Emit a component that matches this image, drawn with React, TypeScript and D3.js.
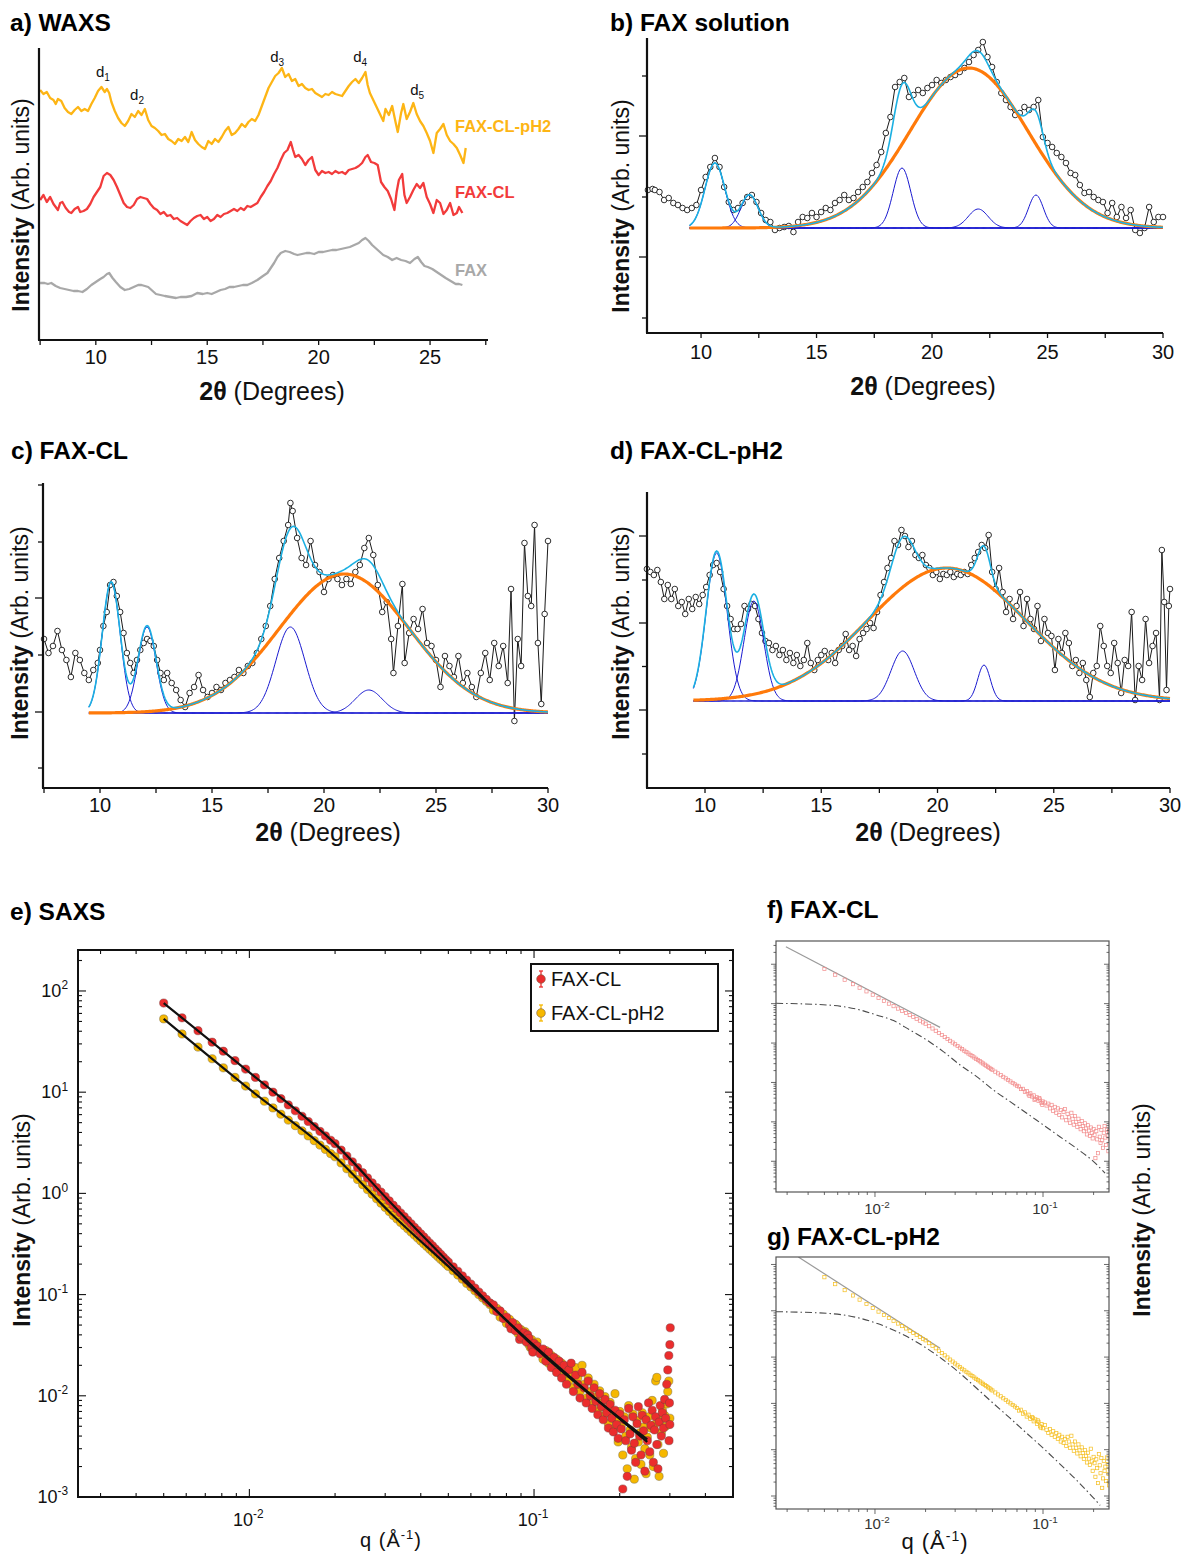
import React from 'react';
import * as d3 from 'd3';

const SANS = '"Liberation Sans", Arial, Helvetica, sans-serif';
const ORANGE = '#FF7A0A';
const BLUE = '#1A1AD0';
const CYAN = '#1CB0E2';
const YEL = '#FDB515';
const RED = '#F23B3B';
const GRAY = '#A8A8A8';

// ---------------- Panel a: WAXS (2θ in degrees, stacked intensity) ----------------
const waxsTickLabels = [10, 15, 20, 25];
const waxsTickMarks = [7.5, 10, 12.5, 15, 17.5, 20, 22.5, 25, 27.5];
const waxsPH2: [number, number][] = [[7.5,250],[7.65,246],[7.8,248],[7.95,242],[8.1,240],[8.2,236],[8.3,241],[8.45,239],[8.6,232],[8.75,228],[8.9,226],[9.05,230],[9.2,233],[9.35,229],[9.5,231],[9.65,229],[9.8,236],[9.95,242],[10.1,249],[10.25,253],[10.4,248],[10.5,251],[10.6,247],[10.7,238],[10.85,229],[11.0,222],[11.15,217],[11.3,214],[11.45,219],[11.6,226],[11.75,223],[11.9,229],[12.05,225],[12.2,231],[12.35,220],[12.5,214],[12.65,212],[12.8,209],[12.95,205],[13.1,206],[13.25,201],[13.4,199],[13.55,196],[13.7,201],[13.85,199],[14.0,203],[14.15,198],[14.3,208],[14.45,200],[14.6,196],[14.75,193],[14.9,191],[15.05,199],[15.2,196],[15.35,201],[15.5,198],[15.65,203],[15.8,209],[15.95,213],[16.1,205],[16.25,207],[16.4,211],[16.55,216],[16.7,213],[16.85,218],[17.0,221],[17.15,219],[17.3,225],[17.45,234],[17.6,243],[17.75,252],[17.9,258],[18.05,264],[18.2,267],[18.35,272],[18.5,263],[18.65,266],[18.8,259],[18.95,261],[19.1,254],[19.25,256],[19.4,252],[19.55,250],[19.7,251],[19.85,247],[20.0,245],[20.15,243],[20.3,246],[20.45,245],[20.6,248],[20.75,246],[20.9,245],[21.05,244],[21.2,249],[21.35,254],[21.5,258],[21.65,261],[21.8,257],[21.95,262],[22.1,268],[22.2,255],[22.3,247],[22.45,240],[22.6,233],[22.75,226],[22.9,219],[23.0,231],[23.15,225],[23.3,234],[23.45,218],[23.55,208],[23.7,227],[23.8,236],[23.95,221],[24.1,228],[24.25,237],[24.4,226],[24.55,219],[24.7,214],[24.85,207],[25.0,199],[25.15,187],[25.3,207],[25.45,211],[25.6,216],[25.75,205],[25.9,199],[26.05,196],[26.2,192],[26.35,185],[26.5,177],[26.6,192]];
const waxsCL: [number, number][] = [[7.5,140],[7.65,145],[7.8,138],[7.95,143],[8.1,136],[8.2,133],[8.3,130],[8.4,137],[8.5,138],[8.65,132],[8.8,128],[8.9,127],[9.05,131],[9.2,133],[9.3,128],[9.45,129],[9.6,131],[9.75,136],[9.9,143],[10.05,148],[10.2,153],[10.35,164],[10.5,167],[10.65,165],[10.8,160],[10.95,153],[11.1,145],[11.25,137],[11.4,133],[11.55,132],[11.7,135],[11.85,141],[12.0,143],[12.15,142],[12.3,141],[12.45,136],[12.6,132],[12.75,130],[12.9,126],[13.05,128],[13.2,124],[13.35,125],[13.5,121],[13.65,122],[13.8,119],[13.95,117],[14.1,115],[14.25,119],[14.4,122],[14.55,124],[14.7,125],[14.85,121],[15.0,123],[15.15,119],[15.3,121],[15.45,125],[15.6,123],[15.75,126],[15.9,127],[16.05,129],[16.2,131],[16.35,129],[16.5,132],[16.65,130],[16.8,134],[16.95,133],[17.1,135],[17.25,137],[17.4,143],[17.55,148],[17.7,154],[17.85,159],[18.0,166],[18.15,172],[18.3,180],[18.45,187],[18.6,190],[18.75,198],[18.85,190],[18.95,183],[19.1,185],[19.25,181],[19.4,175],[19.55,180],[19.7,183],[19.85,170],[20.0,165],[20.15,169],[20.3,167],[20.45,168],[20.6,166],[20.75,169],[20.9,167],[21.05,168],[21.2,166],[21.35,170],[21.5,171],[21.65,172],[21.8,174],[21.95,177],[22.1,183],[22.2,185],[22.35,178],[22.5,177],[22.65,175],[22.8,158],[22.95,153],[23.1,149],[23.25,141],[23.4,130],[23.5,148],[23.6,160],[23.75,166],[23.85,145],[23.95,137],[24.1,143],[24.25,150],[24.4,156],[24.55,152],[24.7,157],[24.85,143],[25.0,136],[25.15,127],[25.3,140],[25.45,137],[25.6,126],[25.75,130],[25.9,137],[26.05,125],[26.2,127],[26.3,133],[26.45,127]];
const waxsFAX: [number, number][] = [[7.5,57],[7.7,57],[7.85,56],[8.0,57],[8.2,54],[8.4,52],[8.6,51],[8.8,50],[9.0,49],[9.2,49],[9.4,48],[9.6,51],[9.8,55],[10.0,58],[10.2,61],[10.35,63],[10.5,66],[10.6,67],[10.75,62],[10.9,58],[11.1,53],[11.3,50],[11.5,51],[11.7,53],[11.9,55],[12.05,55],[12.2,54],[12.35,53],[12.5,50],[12.7,46],[12.9,45],[13.1,44],[13.35,43],[13.6,42],[13.8,43],[14.05,43],[14.3,44],[14.55,47],[14.8,46],[15.0,47],[15.2,46],[15.4,48],[15.6,50],[15.8,51],[16.0,53],[16.2,53],[16.4,54],[16.6,55],[16.8,55],[17.0,57],[17.25,60],[17.5,64],[17.7,67],[17.85,72],[18.0,77],[18.15,83],[18.3,87],[18.5,89],[18.7,88],[18.9,86],[19.05,85],[19.25,86],[19.45,87],[19.6,87],[19.8,86],[20.0,88],[20.2,88],[20.4,89],[20.6,90],[20.8,90],[21.0,91],[21.2,92],[21.4,93],[21.6,95],[21.8,97],[21.95,100],[22.1,102],[22.25,99],[22.4,95],[22.6,91],[22.75,88],[22.9,85],[23.1,83],[23.3,80],[23.5,82],[23.7,80],[23.9,79],[24.1,77],[24.3,81],[24.45,83],[24.6,78],[24.75,74],[24.9,73],[25.1,71],[25.3,68],[25.5,65],[25.7,62],[25.85,60],[26.0,58],[26.15,56],[26.3,56],[26.45,55]];
const waxsPeakNames = ['1', '2', '3', '4', '5'];
const waxsPeakPos: [number, number][] = [[10.32, 263], [11.85, 240], [18.14, 278], [21.86, 278], [24.42, 245]];
const waxsSeries = ['FAX-CL-pH2', 'FAX-CL', 'FAX'];

// ---------------- Panels b–d: peak fitting ----------------
const fitTickLabels = [10, 15, 20, 25, 30];
const fitTickMarks = [7.5, 10, 12.5, 15, 17.5, 20, 22.5, 25, 27.5, 30];
type Gauss = [number, number, number]; // centre, amplitude, sigma

const bData: [number, number][] = [[7.7,38],[7.9,39],[8.0,38],[8.2,36],[8.4,28],[8.6,30],[8.8,25],[9.0,23],[9.2,20],[9.4,18],[9.6,20],[9.8,23],[10.0,38],[10.2,51],[10.4,61],[10.6,70],[10.8,61],[11.0,41],[11.2,26],[11.4,18],[11.6,20],[11.8,25],[12.0,31],[12.2,33],[12.4,26],[12.6,15],[12.8,8],[13.0,6],[13.2,-2],[13.4,0],[13.6,1],[13.8,2],[14.0,-4],[14.2,6],[14.4,11],[14.6,10],[14.8,15],[15.0,11],[15.2,16],[15.4,20],[15.6,18],[15.8,25],[16.0,28],[16.2,33],[16.4,28],[16.6,30],[16.8,36],[17.0,41],[17.2,46],[17.4,55],[17.6,63],[17.8,76],[18.0,95],[18.2,111],[18.4,141],[18.6,146],[18.8,150],[19.0,131],[19.2,133],[19.4,138],[19.6,135],[19.8,140],[20.0,143],[20.2,148],[20.4,145],[20.6,148],[20.8,151],[21.0,153],[21.2,156],[21.4,160],[21.6,166],[21.8,173],[22.0,178],[22.2,186],[22.4,171],[22.6,161],[22.8,146],[23.0,135],[23.2,128],[23.4,121],[23.6,113],[23.8,115],[24.0,121],[24.2,118],[24.4,121],[24.6,128],[24.8,91],[25.0,85],[25.2,81],[25.4,75],[25.6,71],[25.8,65],[26.0,55],[26.2,53],[26.4,43],[26.6,35],[26.8,36],[27.0,31],[27.2,28],[27.4,26],[27.6,15],[27.8,25],[28.0,11],[28.2,21],[28.4,10],[28.6,18],[28.8,-2],[29.0,-5],[29.2,0],[29.4,21],[29.6,6],[29.8,11],[30.0,11]];
const bBroad: Gauss = [21.6, 160, 2.55];
const bPeaks: Gauss[] = [[10.6, 65, 0.43], [12.1, 33, 0.37], [18.7, 60, 0.38], [22.0, 19, 0.43], [24.5, 33, 0.32]];
const bTicksMajor = [92, -29];
const bTicksMinor = [152, 31, -90];

const cData: [number, number][] = [[7.5,74],[7.7,60],[7.9,67],[8.1,82],[8.3,63],[8.5,53],[8.7,36],[8.9,60],[9.1,53],[9.3,40],[9.5,33],[9.7,43],[9.9,50],[10.0,63],[10.15,87],[10.3,101],[10.45,128],[10.6,131],[10.75,117],[10.9,101],[11.05,80],[11.2,60],[11.35,50],[11.5,40],[11.65,53],[11.8,63],[11.95,70],[12.1,74],[12.25,72],[12.4,67],[12.55,53],[12.7,40],[12.85,33],[13.0,40],[13.2,30],[13.4,23],[13.6,13],[13.8,6],[14.0,20],[14.2,26],[14.4,38],[14.6,23],[14.8,16],[15.0,20],[15.2,26],[15.4,23],[15.6,30],[15.8,33],[16.0,36],[16.2,43],[16.4,40],[16.6,47],[16.8,50],[17.0,60],[17.2,74],[17.4,87],[17.6,107],[17.8,134],[18.0,155],[18.2,172],[18.4,188],[18.5,210],[18.6,202],[18.8,175],[19.0,155],[19.2,148],[19.4,172],[19.6,148],[19.8,141],[20.0,121],[20.2,134],[20.4,138],[20.6,134],[20.8,128],[21.0,134],[21.2,129],[21.4,141],[21.6,148],[21.8,165],[22.0,175],[22.2,158],[22.4,128],[22.6,101],[22.8,111],[23.0,74],[23.1,40],[23.3,87],[23.5,129],[23.6,50],[23.8,80],[24.0,94],[24.2,84],[24.4,104],[24.6,70],[24.8,67],[25.0,53],[25.2,26],[25.4,57],[25.6,47],[25.8,36],[26.0,57],[26.2,30],[26.4,40],[26.6,26],[26.8,16],[27.0,40],[27.2,60],[27.4,33],[27.6,70],[27.8,47],[28.0,67],[28.2,30],[28.35,124],[28.5,-8],[28.65,74],[28.8,47],[28.95,170],[29.1,117],[29.25,107],[29.4,188],[29.55,70],[29.7,9],[29.85,99],[30.0,172]];
const cBroad: Gauss = [20.9, 139, 2.9];
const cPeaks: Gauss[] = [[10.5, 131, 0.4], [12.1, 86, 0.4], [18.5, 86, 0.65], [22.0, 23, 0.6]];
const cTicksMajor = [115, 1];
const cTicksMinor = [228, 171, 58, -55];

const dData: [number, number][] = [[7.5,132],[7.65,129],[7.8,126],[7.95,131],[8.1,119],[8.25,102],[8.4,116],[8.55,102],[8.7,112],[8.85,95],[9.0,99],[9.15,87],[9.3,102],[9.45,92],[9.6,104],[9.75,97],[9.9,106],[10.05,114],[10.2,126],[10.35,136],[10.5,138],[10.65,129],[10.8,112],[10.95,95],[11.1,82],[11.25,72],[11.4,72],[11.55,77],[11.7,95],[11.85,92],[12.0,97],[12.15,95],[12.3,82],[12.45,68],[12.6,60],[12.75,58],[12.9,51],[13.05,55],[13.2,46],[13.35,51],[13.5,41],[13.65,48],[13.8,38],[13.95,46],[14.1,35],[14.25,41],[14.4,58],[14.55,38],[14.7,31],[14.85,41],[15.0,46],[15.15,50],[15.3,41],[15.45,48],[15.6,38],[15.75,51],[15.9,55],[16.05,67],[16.2,51],[16.35,55],[16.5,45],[16.65,62],[16.8,68],[16.95,72],[17.1,78],[17.25,73],[17.4,89],[17.55,106],[17.7,119],[17.85,133],[18.0,143],[18.15,160],[18.3,156],[18.45,171],[18.6,165],[18.75,154],[18.9,160],[19.05,146],[19.2,143],[19.35,146],[19.5,136],[19.65,133],[19.8,126],[19.95,129],[20.1,122],[20.25,127],[20.4,126],[20.55,129],[20.7,124],[20.85,127],[21.0,126],[21.15,129],[21.3,127],[21.45,136],[21.6,143],[21.75,149],[21.9,156],[22.05,153],[22.2,166],[22.35,129],[22.5,112],[22.65,133],[22.8,109],[22.95,89],[23.1,102],[23.25,82],[23.4,95],[23.55,109],[23.7,75],[23.85,102],[24.0,82],[24.15,72],[24.3,95],[24.45,60],[24.6,82],[24.75,68],[24.9,65],[25.05,31],[25.2,62],[25.35,48],[25.5,68],[25.65,58],[25.8,35],[25.95,41],[26.1,28],[26.25,38],[26.4,21],[26.55,4],[26.7,28],[26.85,35],[27.0,75],[27.15,55],[27.3,35],[27.45,28],[27.6,58],[27.75,38],[27.9,8],[28.05,41],[28.2,35],[28.35,89],[28.5,1],[28.65,35],[28.8,21],[28.95,82],[29.1,38],[29.25,55],[29.4,68],[29.55,1],[29.65,151],[29.75,99],[29.85,11],[29.95,95],[30.0,112]];
const dBroad: Gauss = [20.4, 133, 3.4];
const dPeaks: Gauss[] = [[10.5, 148, 0.45], [12.1, 100, 0.42], [18.5, 50, 0.5], [22.0, 36, 0.27]];
const dTicksMajor = [165, 78, -9];
const dTicksMinor = [121, 34.5, -53];

// ---------------- Panels e–g: SAXS (q in Å^-1, intensity) ----------------
const saxsCL: [number, number][] = [[0.005,76],[0.0058,54.3],[0.0066,40.5],[0.0074,31.2],[0.0081,25.4],[0.0089,20.5],[0.0097,16.9],[0.0105,14.0],[0.0113,11.8],[0.0121,10.0],[0.0129,8.63],[0.0137,7.49],[0.0145,6.55],[0.0153,5.78],[0.0161,5.13],[0.0169,4.58],[0.0177,4.10],[0.0185,3.70],[0.0193,3.35],[0.02,3.1],[0.021,2.68],[0.022,2.34],[0.023,2.05],[0.024,1.80],[0.025,1.60],[0.026,1.42],[0.027,1.27],[0.028,1.14],[0.029,1.03],[0.030,0.93],[0.031,0.843],[0.032,0.764],[0.033,0.699],[0.034,0.640],[0.035,0.589],[0.036,0.542],[0.037,0.501],[0.038,0.463],[0.039,0.430],[0.040,0.399],[0.041,0.371],[0.042,0.346],[0.043,0.323],[0.044,0.303],[0.045,0.283],[0.046,0.266],[0.047,0.250],[0.048,0.235],[0.049,0.221],[0.050,0.21],[0.052,0.188],[0.054,0.170],[0.056,0.153],[0.058,0.139],[0.060,0.127],[0.062,0.116],[0.064,0.106],[0.066,0.0973],[0.068,0.0896],[0.070,0.0827],[0.072,0.079],[0.074,0.068],[0.076,0.069],[0.078,0.058],[0.080,0.060],[0.082,0.050],[0.083,0.046],[0.084,0.053],[0.086,0.044],[0.088,0.047],[0.089,0.036],[0.090,0.038],[0.092,0.042],[0.094,0.034],[0.095,0.040],[0.096,0.037],[0.098,0.030],[0.099,0.027],[0.100,0.033],[0.1025,0.031],[0.105,0.026],[0.1075,0.029],[0.11,0.022],[0.1125,0.027],[0.115,0.019],[0.1175,0.024],[0.12,0.017],[0.1225,0.022],[0.125,0.015],[0.1275,0.020],[0.13,0.013],[0.1325,0.018],[0.135,0.021],[0.1375,0.011],[0.14,0.016],[0.1425,0.013],[0.145,0.0095],[0.1475,0.017],[0.15,0.012],[0.1525,0.0085],[0.155,0.014],[0.1575,0.010],[0.16,0.0075],[0.1625,0.012],[0.165,0.0088],[0.1675,0.0065],[0.17,0.0105],[0.1725,0.0078],[0.175,0.0058],[0.1775,0.0092],[0.18,0.0068],[0.1825,0.0048],[0.185,0.0082],[0.1875,0.0060],[0.19,0.0044],[0.1925,0.0072],[0.195,0.0052],[0.1975,0.0038],[0.2,0.0066],[0.2025,0.0047],[0.205,0.0012],[0.2075,0.0058],[0.21,0.0036],[0.2125,0.0016],[0.215,0.0075],[0.2175,0.0042],[0.22,0.0029],[0.2225,0.0062],[0.225,0.0034],[0.2275,0.0022],[0.23,0.0053],[0.2325,0.0078],[0.235,0.0040],[0.2375,0.0026],[0.24,0.0064],[0.2425,0.0045],[0.245,0.0018],[0.2475,0.0058],[0.25,0.0036],[0.2525,0.0085],[0.255,0.0028],[0.2575,0.0051],[0.26,0.0072],[0.2625,0.0022],[0.265,0.0046],[0.2675,0.0062],[0.27,0.0033],[0.2725,0.0019],[0.275,0.0055],[0.2775,0.0080],[0.28,0.0040],[0.2825,0.0068],[0.285,0.0048],[0.2875,0.0092],[0.29,0.0060],[0.2925,0.013],[0.295,0.018],[0.2975,0.025],[0.298,0.0036],[0.299,0.0085],[0.3,0.0052],[0.3,0.032],[0.301,0.047]];
const saxsPH2: [number, number][] = [[0.005,53],[0.0058,37.6],[0.0066,27.9],[0.0074,21.4],[0.0081,17.4],[0.0089,14.0],[0.0097,11.5],[0.0105,9.6],[0.0113,8.15],[0.0121,6.99],[0.0129,6.06],[0.0137,5.30],[0.0145,4.67],[0.0153,4.15],[0.0161,3.70],[0.0169,3.32],[0.0177,3.00],[0.0185,2.72],[0.0193,2.47],[0.02,2.3],[0.021,2.00],[0.022,1.75],[0.023,1.55],[0.024,1.37],[0.025,1.22],[0.026,1.09],[0.027,0.981],[0.028,0.884],[0.029,0.800],[0.030,0.727],[0.031,0.662],[0.032,0.605],[0.033,0.559],[0.034,0.517],[0.035,0.480],[0.036,0.446],[0.037,0.415],[0.038,0.388],[0.039,0.362],[0.040,0.339],[0.041,0.318],[0.042,0.299],[0.043,0.281],[0.044,0.265],[0.045,0.250],[0.046,0.236],[0.047,0.223],[0.048,0.212],[0.049,0.200],[0.050,0.19],[0.052,0.172],[0.054,0.156],[0.056,0.142],[0.058,0.129],[0.060,0.119],[0.062,0.109],[0.064,0.100],[0.066,0.0926],[0.068,0.0857],[0.070,0.0796],[0.072,0.070],[0.074,0.073],[0.076,0.060],[0.078,0.064],[0.080,0.052],[0.082,0.057],[0.084,0.046],[0.086,0.051],[0.087,0.049],[0.088,0.041],[0.090,0.045],[0.092,0.036],[0.093,0.043],[0.094,0.040],[0.096,0.032],[0.097,0.030],[0.098,0.036],[0.100,0.029],[0.1025,0.034],[0.105,0.027],[0.1075,0.023],[0.11,0.028],[0.1125,0.021],[0.115,0.025],[0.1175,0.019],[0.12,0.023],[0.1225,0.017],[0.125,0.021],[0.1275,0.015],[0.13,0.019],[0.1325,0.014],[0.135,0.017],[0.1375,0.012],[0.14,0.019],[0.1425,0.015],[0.145,0.011],[0.1475,0.020],[0.15,0.013],[0.1525,0.0095],[0.155,0.015],[0.1575,0.011],[0.16,0.0083],[0.1625,0.013],[0.165,0.0097],[0.1675,0.0072],[0.17,0.0112],[0.1725,0.0085],[0.175,0.0063],[0.1775,0.0098],[0.18,0.0074],[0.1825,0.0053],[0.185,0.0086],[0.1875,0.0064],[0.19,0.0047],[0.1925,0.0105],[0.195,0.0056],[0.1975,0.0035],[0.2,0.0070],[0.2025,0.0051],[0.205,0.0026],[0.2075,0.0062],[0.21,0.0040],[0.2125,0.0019],[0.215,0.0080],[0.2175,0.0046],[0.22,0.0031],[0.2225,0.0066],[0.225,0.0015],[0.2275,0.0024],[0.23,0.0057],[0.2325,0.0035],[0.235,0.0043],[0.2375,0.0021],[0.24,0.0068],[0.2425,0.0049],[0.245,0.0030],[0.2475,0.0017],[0.25,0.0039],[0.2525,0.0062],[0.255,0.0026],[0.2575,0.0048],[0.26,0.0090],[0.2625,0.0020],[0.265,0.0052],[0.2675,0.0140],[0.27,0.0152],[0.2725,0.0033],[0.275,0.0016],[0.2775,0.0058],[0.28,0.0043],[0.2825,0.0072],[0.285,0.0027],[0.2875,0.0064],[0.29,0.0050],[0.2925,0.0083],[0.295,0.0110],[0.2975,0.0140],[0.3,0.0060]];
const fitCL: [number, number][] = [[0.005,76],[0.01,15.7],[0.02,3.1],[0.0315,0.80],[0.05,0.21],[0.1,0.0305],[0.25,0.0037]];
const fitPH2: [number, number][] = [[0.005,53],[0.01,10.7],[0.02,2.3],[0.0315,0.63],[0.05,0.19],[0.1,0.0315],[0.25,0.0035]];
const powerCL: [number, number][] = [[0.00295, 277], [0.0244, 2.5]];
const powerPH2: [number, number][] = [[0.0035, 145], [0.0244, 1.55]];
const modelCL: [number, number][] = [[0.00258,10.2],[0.00515,9.27],[0.00815,6.92],[0.0102,5.16],[0.0129,3.71],[0.0161,2.15],[0.0203,1.20],[0.0255,0.607],[0.0321,0.278],[0.0403,0.141],[0.0506,0.0646],[0.0637,0.0326],[0.080,0.0166],[0.1005,0.0083],[0.126,0.0042],[0.158,0.00214],[0.20,0.00098],[0.234,0.0005]];
const modelPH2: [number, number][] = [[0.002576,9.55],[0.005152,8.83],[0.008147,6.89],[0.01023,5.37],[0.01285,3.85],[0.01614,2.55],[0.02032,1.55],[0.02553,0.865],[0.03206,0.447],[0.04027,0.212],[0.05058,0.1005],[0.06368,0.0479],[0.07998,0.0226],[0.1005,0.0107],[0.1262,0.0049],[0.1585,0.00219],[0.1995,0.000912],[0.2188,0.00063]];
const saxsYExp = [-3, -2, -1, 0, 1, 2];
const saxsXExp = [-2, -1];
const legendNames = ['FAX-CL', 'FAX-CL-pH2'];

// ---------------- helpers ----------------
const gauss = (x: number, g: Gauss) => g[1] * Math.exp(-((x - g[0]) ** 2) / (2 * g[2] * g[2]));

function logTicks(lo: number, hi: number) {
  const out: { v: number; major: boolean }[] = [];
  for (let e = Math.floor(Math.log10(lo)); e <= Math.ceil(Math.log10(hi)); e++) {
    for (let m = 1; m <= 9; m++) {
      const v = m * Math.pow(10, e);
      if (v >= lo * 0.9999 && v <= hi * 1.0001) out.push({ v, major: m === 1 });
    }
  }
  return out;
}

function YLabel({ x, y, size = 23 }: { x: number; y: number; size?: number }) {
  return (
    <text transform={`translate(${x},${y}) rotate(-90)`} textAnchor="middle" fontSize={size} fill="#111">
      <tspan fontWeight="bold">Intensity</tspan>
      <tspan>{' (Arb. units)'}</tspan>
    </text>
  );
}

function DegLabel({ x, y }: { x: number; y: number }) {
  return (
    <text x={x} y={y} textAnchor="middle" fontSize={25} fill="#111">
      <tspan fontWeight="bold">2θ</tspan>
      <tspan>{' (Degrees)'}</tspan>
    </text>
  );
}

function Pow10({ x, y, exp, size, anchor, fill = '#111' }: { x: number; y: number; exp: number; size: number; anchor: string; fill?: string }) {
  return (
    <text x={x} y={y} textAnchor={anchor} fontSize={size} fill={fill}>
      10<tspan dy={-size * 0.42} fontSize={size * 0.66}>{String(exp)}</tspan>
    </text>
  );
}

const TITLE = 24.5;

// ---------------- Panel a ----------------
function PanelA() {
  const x = d3.scaleLinear().domain([7.45, 27.6]).range([39, 488]);
  const y = d3.scaleLinear().domain([0, 292]).range([340, 48]);
  const line = d3.line<[number, number]>().x(d => x(d[0])).y(d => y(d[1]));
  const series = [waxsPH2, waxsCL, waxsFAX];
  const colors = [YEL, RED, GRAY];
  const labelY = [132, 198, 276];
  return (
    <g>
      <text x={10} y={31} fontSize={TITLE} fontWeight="bold">a) WAXS</text>
      {series.map((s, i) => (
        <path key={i} d={line(s)!} fill="none" stroke={colors[i]} strokeWidth={2.3} strokeLinejoin="round" />
      ))}
      {waxsSeries.map((n, i) => (
        <text key={n} x={455} y={labelY[i]} fontSize={16.5} fontWeight="bold" fill={colors[i]}>{n}</text>
      ))}
      {waxsPeakPos.map((p, i) => (
        <text key={i} x={x(p[0])} y={y(p[1])} textAnchor="middle" fontSize={15} fill="#111">
          d<tspan dy={4} fontSize={10}>{waxsPeakNames[i]}</tspan>
        </text>
      ))}
      <line x1={39} y1={48} x2={39} y2={340} stroke="#111" strokeWidth={2.2} />
      <line x1={38} y1={340} x2={488} y2={340} stroke="#111" strokeWidth={2.2} />
      {waxsTickMarks.map(v => (
        <line key={v} x1={x(v)} x2={x(v)} y1={340} y2={345} stroke="#111" strokeWidth={1.3} />
      ))}
      {waxsTickLabels.map(v => (
        <text key={v} x={x(v)} y={364} textAnchor="middle" fontSize={20} fill="#111">{v}</text>
      ))}
      <DegLabel x={272} y={400} />
      <YLabel x={29} y={205} />
    </g>
  );
}

// ---------------- Panels b–d ----------------
interface FitProps {
  title: string; tx: number; ty: number;
  xd: [number, number]; xr: [number, number];
  yd: [number, number]; yr: [number, number];
  data: [number, number][]; peaks: Gauss[]; broad: Gauss;
  major: number[]; minor: number[];
  tickY: number; xlabelX: number; xlabelY: number; ylabelX: number; ylabelY: number;
}

function FitPanel(p: FitProps) {
  const x = d3.scaleLinear().domain(p.xd).range(p.xr);
  const y = d3.scaleLinear().domain(p.yd).range(p.yr);
  const grid = d3.range(9.5, 30.0001, 0.05);
  const line = d3.line<[number, number]>().x(d => x(d[0])).y(d => y(d[1]));
  const broad = grid.map(v => [v, gauss(v, p.broad)] as [number, number]);
  const total = grid.map(v => [v, gauss(v, p.broad) + d3.sum(p.peaks, g => gauss(v, g))] as [number, number]);
  const [xl, xrt] = p.xr;
  const [yb, yt] = p.yr;
  return (
    <g>
      <text x={p.tx} y={p.ty} fontSize={TITLE} fontWeight="bold">{p.title}</text>
      <path d={line(p.data)!} fill="none" stroke="#1a1a1a" strokeWidth={1} />
      {p.data.map((d, i) => (
        <circle key={i} cx={x(d[0])} cy={y(d[1])} r={2.8} fill="#fff" stroke="#1a1a1a" strokeWidth={0.9} />
      ))}
      {p.peaks.map((g, i) => (
        <path key={i} d={line(grid.map(v => [v, gauss(v, g)] as [number, number]))!} fill="none" stroke={BLUE} strokeWidth={1} />
      ))}
      <path d={line(broad)!} fill="none" stroke={ORANGE} strokeWidth={3.2} />
      <path d={line(total)!} fill="none" stroke={CYAN} strokeWidth={1.6} />
      <line x1={xl} y1={yt} x2={xl} y2={yb} stroke="#111" strokeWidth={2.2} />
      <line x1={xl - 1} y1={yb} x2={xrt} y2={yb} stroke="#111" strokeWidth={2.2} />
      {fitTickMarks.filter(v => v >= p.xd[0] && v <= p.xd[1]).map(v => (
        <line key={v} x1={x(v)} x2={x(v)} y1={yb} y2={yb + 5} stroke="#111" strokeWidth={1.3} />
      ))}
      {p.major.map(v => <line key={'M' + v} x1={xl - 8} x2={xl} y1={y(v)} y2={y(v)} stroke="#111" strokeWidth={1.3} />)}
      {p.minor.map(v => <line key={'m' + v} x1={xl - 5} x2={xl} y1={y(v)} y2={y(v)} stroke="#111" strokeWidth={1.3} />)}
      {fitTickLabels.map(v => (
        <text key={v} x={x(v)} y={p.tickY} textAnchor="middle" fontSize={20} fill="#111">{v}</text>
      ))}
      <DegLabel x={p.xlabelX} y={p.xlabelY} />
      <YLabel x={p.ylabelX} y={p.ylabelY} />
    </g>
  );
}

// ---------------- Panel e ----------------
function PanelE() {
  const x = d3.scaleLog().domain([0.0025, 0.5]).range([78, 733]);
  const y = d3.scaleLog().domain([0.001, 254]).range([1497, 950]);
  const line = d3.line<[number, number]>().x(d => x(d[0])).y(d => y(d[1])).curve(d3.curveMonotoneX);
  const L = 78, R = 733, T = 950, B = 1497;
  const yt = logTicks(0.001, 254);
  const xt = logTicks(0.0025, 0.5);
  return (
    <g>
      <text x={10} y={920} fontSize={TITLE} fontWeight="bold">e) SAXS</text>
      <defs>
        <clipPath id="clipE"><rect x={L} y={T} width={R - L} height={B - T} /></clipPath>
      </defs>
      <g clipPath="url(#clipE)">
        {saxsPH2.map((d, i) => (
          <circle key={'y' + i} cx={x(d[0])} cy={y(d[1])} r={4.1} fill="#F6B800" stroke="#7a6a40" strokeWidth={0.5} />
        ))}
        {saxsCL.map((d, i) => (
          <circle key={'r' + i} cx={x(d[0])} cy={y(d[1])} r={4.1} fill="#EB2D2D" stroke="#7a3a3a" strokeWidth={0.5} />
        ))}
        <path d={line(fitPH2)!} fill="none" stroke="#111" strokeWidth={2.2} />
        <path d={line(fitCL)!} fill="none" stroke="#111" strokeWidth={2.2} />
      </g>
      <rect x={L} y={T} width={R - L} height={B - T} fill="none" stroke="#111" strokeWidth={2} />
      {yt.map(t => {
        const len = t.major ? 8 : 4;
        return (
          <g key={'yt' + t.v}>
            <line x1={L} x2={L + len} y1={y(t.v)} y2={y(t.v)} stroke="#111" strokeWidth={1.1} />
            <line x1={R - len} x2={R} y1={y(t.v)} y2={y(t.v)} stroke="#111" strokeWidth={1.1} />
          </g>
        );
      })}
      {xt.map(t => {
        const len = t.major ? 8 : 4;
        return (
          <g key={'xt' + t.v}>
            <line x1={x(t.v)} x2={x(t.v)} y1={T} y2={T + len} stroke="#111" strokeWidth={1.1} />
            <line x1={x(t.v)} x2={x(t.v)} y1={B - len} y2={B} stroke="#111" strokeWidth={1.1} />
          </g>
        );
      })}
      {saxsYExp.map(e => (
        <Pow10 key={e} x={68} y={y(Math.pow(10, e)) + 6} exp={e} size={18} anchor="end" />
      ))}
      {saxsXExp.map(e => (
        <Pow10 key={e} x={x(Math.pow(10, e)) - 1} y={1526} exp={e} size={18} anchor="middle" />
      ))}
      <text x={391} y={1547} textAnchor="middle" fontSize={20} fill="#111" letterSpacing={1}>
        q{'  '}(Å<tspan dy={-8} fontSize={13}>-1</tspan><tspan dy={8}>)</tspan>
      </text>
      <YLabel x={30} y={1220} />
      <rect x={531} y={964} width={187} height={67} fill="#fff" stroke="#111" strokeWidth={2} />
      {legendNames.map((n, i) => {
        const cy = 979 + i * 34;
        const col = i === 0 ? '#EB2D2D' : '#F6B800';
        return (
          <g key={n}>
            <line x1={541} x2={541} y1={cy - 8} y2={cy + 8} stroke={col} strokeWidth={1.3} />
            <line x1={539} x2={543} y1={cy - 8} y2={cy - 8} stroke={col} strokeWidth={1.3} />
            <line x1={539} x2={543} y1={cy + 8} y2={cy + 8} stroke={col} strokeWidth={1.3} />
            <circle cx={541} cy={cy} r={4.3} fill={col} stroke="#7a5a40" strokeWidth={0.6} />
            <text x={551} y={cy + 7} fontSize={20} fill="#111">{n}</text>
          </g>
        );
      })}
    </g>
  );
}

// ---------------- Panels f, g ----------------
interface SmallProps {
  id: string; title: string; ty: number; T: number; B: number; yd: [number, number];
  data: [number, number][]; color: string; power: [number, number][]; model: [number, number][]; tickY: number;
}

function SmallSaxs(p: SmallProps) {
  const L = 776, R = 1109;
  const x = d3.scaleLog().domain([0.002576, 0.247]).range([L, R]);
  const y = d3.scaleLog().domain(p.yd).range([p.B, p.T]);
  const line = d3.line<[number, number]>().x(d => x(d[0])).y(d => y(d[1])).curve(d3.curveMonotoneX);
  const yt = logTicks(p.yd[0], p.yd[1]);
  const xt = logTicks(0.002576, 0.247);
  return (
    <g>
      <text x={767} y={p.ty} fontSize={TITLE} fontWeight="bold">{p.title}</text>
      <defs>
        <clipPath id={p.id}><rect x={L} y={p.T} width={R - L} height={p.B - p.T} /></clipPath>
      </defs>
      <g clipPath={`url(#${p.id})`}>
        <path d={line(p.model)!} fill="none" stroke="#4a4a4a" strokeWidth={1.1} strokeDasharray="7 3 1.5 3" />
        <path d={line(p.power)!} fill="none" stroke="#9a9a9a" strokeWidth={1.2} />
        {p.data.map((d, i) => (
          <rect key={i} x={x(d[0]) - 1.6} y={y(d[1]) - 1.6} width={3.2} height={3.2} fill="none" stroke={p.color} strokeWidth={0.7} />
        ))}
      </g>
      <rect x={L} y={p.T} width={R - L} height={p.B - p.T} fill="none" stroke="#555" strokeWidth={1.2} />
      {yt.map(t => {
        const len = t.major ? 5 : 2.5;
        return (
          <g key={'yt' + t.v}>
            <line x1={L - len} x2={L} y1={y(t.v)} y2={y(t.v)} stroke="#444" strokeWidth={0.8} />
            <line x1={R - len} x2={R} y1={y(t.v)} y2={y(t.v)} stroke="#444" strokeWidth={0.8} />
          </g>
        );
      })}
      {xt.map(t => (
        <line key={'xt' + t.v} x1={x(t.v)} x2={x(t.v)} y1={p.B} y2={p.B + (t.major ? 5 : 3)} stroke="#444" strokeWidth={0.8} />
      ))}
      {saxsXExp.map(e => (
        <Pow10 key={e} x={x(Math.pow(10, e)) + 2} y={p.tickY} exp={e} size={15} anchor="middle" fill="#333" />
      ))}
    </g>
  );
}

export default function App() {
  return (
    <svg width={1184} height={1555} viewBox="0 0 1184 1555" fontFamily={SANS}
      style={{ position: 'absolute', left: 0, top: 0, background: '#fff' }}>
      <rect x={0} y={0} width={1184} height={1555} fill="#fff" />
      <PanelA />
      <FitPanel title="b) FAX solution" tx={610} ty={31} xd={[7.66, 30]} xr={[647, 1163]} yd={[-105, 190]} yr={[333, 38]}
        data={bData} peaks={bPeaks} broad={bBroad} major={bTicksMajor} minor={bTicksMinor}
        tickY={359} xlabelX={923} xlabelY={395} ylabelX={629} ylabelY={206} />
      <FitPanel title="c) FAX-CL" tx={11} ty={459} xd={[7.455, 30]} xr={[43, 548]} yd={[-75, 230]} yr={[788, 483]}
        data={cData} peaks={cPeaks} broad={cBroad} major={cTicksMajor} minor={cTicksMinor}
        tickY={812} xlabelX={328} xlabelY={841} ylabelX={28} ylabelY={633} />
      <FitPanel title="d) FAX-CL-pH2" tx={610} ty={459} xd={[7.505, 30]} xr={[647, 1170]} yd={[-87, 209]} yr={[788, 492]}
        data={dData} peaks={dPeaks} broad={dBroad} major={dTicksMajor} minor={dTicksMinor}
        tickY={812} xlabelX={928} xlabelY={841} ylabelX={629} ylabelY={633} />
      <PanelE />
      <SmallSaxs id="clipF" title="f) FAX-CL" ty={918} T={941} B={1192} yd={[1.66e-4, 389]}
        data={saxsCL} color="#F28B8B" power={powerCL} model={modelCL} tickY={1214} />
      <SmallSaxs id="clipG" title="g) FAX-CL-pH2" ty={1245} T={1257} B={1509} yd={[5.24e-4, 145]}
        data={saxsPH2} color="#F5BE1E" power={powerPH2} model={modelPH2} tickY={1529} />
      <text x={935} y={1549} textAnchor="middle" fontSize={22} fill="#111" letterSpacing={1}>
        q{'  '}(Å<tspan dy={-8} fontSize={14}>-1</tspan><tspan dy={8}>)</tspan>
      </text>
      <YLabel x={1150} y={1210} />
    </svg>
  );
}
